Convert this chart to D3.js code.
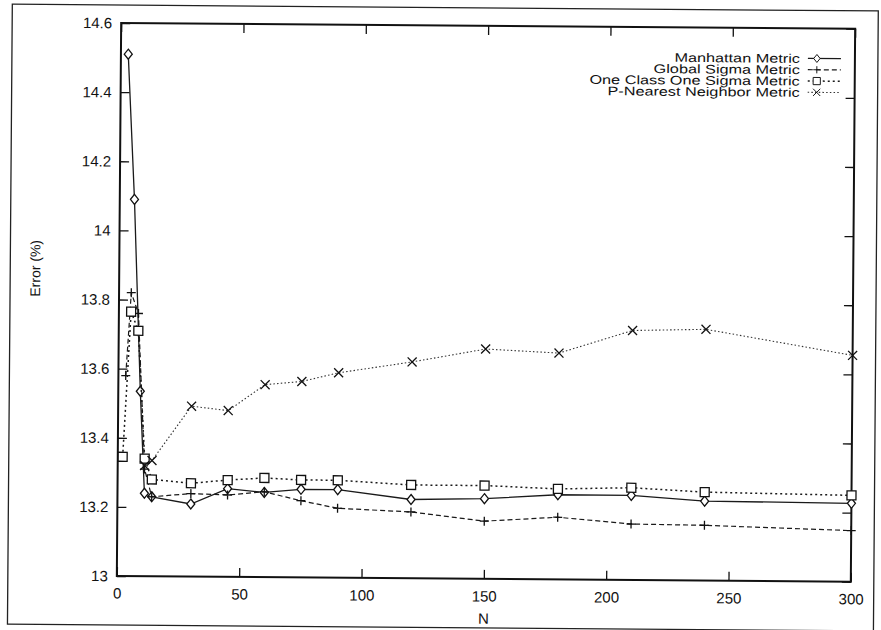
<!DOCTYPE html>
<html>
<head>
<meta charset="utf-8">
<script src="https://cdn.jsdelivr.net/npm/d3@7/dist/d3.min.js"></script>
<style>
  body { margin: 0; background: #fff; }
  text { font-family: "Liberation Sans", Arial, sans-serif; fill: #111; }
</style>
</head>
<body>
<div id="chart"></div>
<script>
// values
const manhattanN   = [3, 6, 9, 11, 14, 30, 45, 60, 75, 90, 120, 150, 180, 210, 240, 300];
const manhattanErr = [14.51, 14.09, 13.535, 13.24, 13.23, 13.21, 13.255, 13.245, 13.255, 13.255, 13.228, 13.232, 13.245, 13.245, 13.23, 13.227];

const globalN   = [3, 5, 8, 11, 14, 30, 45, 60, 75, 90, 120, 150, 180, 210, 240, 300];
const globalErr = [13.58, 13.82, 13.76, 13.31, 13.23, 13.24, 13.237, 13.247, 13.222, 13.201, 13.192, 13.167, 13.18, 13.162, 13.16, 13.148];

const oneClassN   = [2, 5, 8, 11, 14, 30, 45, 60, 75, 90, 120, 150, 180, 210, 240, 300];
const oneClassErr = [13.345, 13.765, 13.71, 13.34, 13.28, 13.27, 13.28, 13.287, 13.282, 13.282, 13.27, 13.27, 13.262, 13.267, 13.256, 13.25];

const pNearestN   = [11, 14, 30, 45, 60, 75, 90, 120, 150, 180, 210, 240, 300];
const pNearestErr = [13.32, 13.335, 13.493, 13.481, 13.557, 13.567, 13.593, 13.626, 13.665, 13.655, 13.722, 13.727, 13.655];

const seriesNames = ["Manhattan Metric", "Global Sigma Metric", "One Class One Sigma Metric", "P-Nearest Neighbor Metric"];
const xTicks = [0, 50, 100, 150, 200, 250, 300];
const yTicks = [13, 13.2, 13.4, 13.6, 13.8, 14, 14.2, 14.4, 14.6];

const width = 881, height = 630;
const plotL = 119, plotR = 853, plotT = 23, plotB = 576;

const svg = d3.select("#chart").append("svg")
  .attr("width", width).attr("height", height);

// the scan is slightly tilted
const g = svg.append("g").attr("transform", "rotate(0.45, 119, 300)");

g.append("rect")
  .attr("x", 10).attr("y", 5).attr("width", 866).attr("height", 620)
  .attr("fill", "none").attr("stroke", "#222").attr("stroke-width", 1.3);

const x = d3.scaleLinear().domain([0, 300]).range([plotL, plotR]);
const y = d3.scaleLinear().domain([13, 14.6]).range([plotB, plotT]);

const fmt = d => String(+d.toFixed(1));

const axisL = g.append("g").attr("transform", `translate(${plotL},0)`)
  .call(d3.axisLeft(y).tickValues(yTicks).tickSize(-9).tickPadding(9).tickFormat(fmt));
const axisR = g.append("g").attr("transform", `translate(${plotR},0)`)
  .call(d3.axisRight(y).tickValues(yTicks).tickSize(-9).tickFormat(""));
const axisB = g.append("g").attr("transform", `translate(0,${plotB})`)
  .call(d3.axisBottom(x).tickValues(xTicks).tickSize(-9).tickPadding(12).tickFormat(d3.format("d")));
const axisT = g.append("g").attr("transform", `translate(0,${plotT})`)
  .call(d3.axisTop(x).tickValues(xTicks).tickSize(-9).tickFormat(""));

[axisL, axisR, axisB, axisT].forEach(a => {
  a.select(".domain").remove();
  a.selectAll("line").attr("stroke", "#111").attr("stroke-width", 1.3);
  a.selectAll("text").attr("font-size", 15).attr("fill", "#111")
    .attr("font-family", '"Liberation Sans", Arial, sans-serif');
});

g.append("rect")
  .attr("x", plotL).attr("y", plotT).attr("width", plotR - plotL).attr("height", plotB - plotT)
  .attr("fill", "none").attr("stroke", "#111").attr("stroke-width", 2);

g.append("text").attr("x", (plotL + plotR) / 2).attr("y", 621)
  .attr("text-anchor", "middle").attr("font-size", 15).text("N");

g.append("text").attr("transform", "translate(40,269) rotate(-90)")
  .attr("text-anchor", "middle").attr("font-size", 14).text("Error (%)");

const markers = {
  diamond: "M0,-5L4,0L0,5L-4,0Z",
  plus: "M-4.5,0H4.5M0,-4.5V4.5",
  square: "M-4.5,-4.5H4.5V4.5H-4.5Z",
  cross: "M-4.5,-4.5L4.5,4.5M-4.5,4.5L4.5,-4.5"
};

const series = [
  { name: seriesNames[0], n: manhattanN, v: manhattanErr, dash: null, width: 1.3, color: "#1a1a1a", marker: "diamond" },
  { name: seriesNames[1], n: globalN, v: globalErr, dash: "5,3", width: 1.2, color: "#1a1a1a", marker: "plus" },
  { name: seriesNames[2], n: oneClassN, v: oneClassErr, dash: "2,3", width: 1.5, color: "#1a1a1a", marker: "square" },
  { name: seriesNames[3], n: pNearestN, v: pNearestErr, dash: "1.5,2.2", width: 1.1, color: "#333", marker: "cross" }
];

const line = d3.line().x(d => x(d[0])).y(d => y(d[1]));

series.forEach(s => {
  const pts = s.n.map((n, i) => [n, s.v[i]]);
  g.append("path").datum(pts)
    .attr("d", line)
    .attr("fill", "none")
    .attr("stroke", s.color)
    .attr("stroke-width", s.width)
    .attr("stroke-dasharray", s.dash);
  g.append("g").selectAll("path").data(pts).enter().append("path")
    .attr("transform", d => `translate(${x(d[0])},${y(d[1])})`)
    .attr("d", markers[s.marker])
    .attr("fill", s.marker === "diamond" || s.marker === "square" ? "#fff" : "none")
    .attr("stroke", "#111")
    .attr("stroke-width", 1.3);
});

// legend
const legend = g.append("g").attr("class", "legend");
series.forEach((s, i) => {
  const ly = 53 + i * 11.3;
  legend.append("text")
    .attr("transform", `translate(798,${ly + 4.5}) scale(1.3,1)`)
    .attr("text-anchor", "end").attr("font-size", 12.5).text(s.name);
  legend.append("line")
    .attr("x1", 806).attr("x2", 839).attr("y1", ly).attr("y2", ly)
    .attr("stroke", s.color).attr("stroke-width", s.width)
    .attr("stroke-dasharray", s.dash);
  legend.append("path")
    .attr("transform", `translate(815,${ly}) scale(0.8)`)
    .attr("d", markers[s.marker])
    .attr("fill", s.marker === "diamond" || s.marker === "square" ? "#fff" : "none")
    .attr("stroke", "#111").attr("stroke-width", 1.2);
});
</script>
</body>
</html>
